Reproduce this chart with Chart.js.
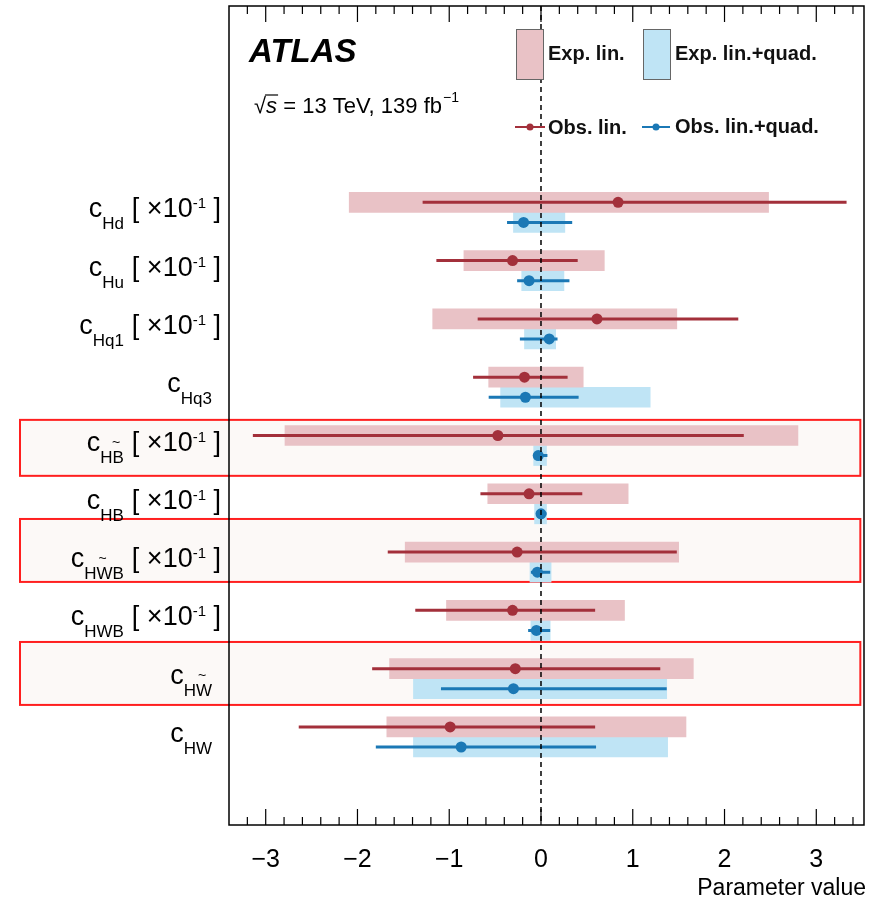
<!DOCTYPE html>
<html>
<head>
<meta charset="utf-8">
<script src="https://cdn.jsdelivr.net/npm/chart.js@4.4.1/dist/chart.umd.min.js"></script>
<style>
  body { margin: 0; background: #fff; }
  #wrap { width: 877px; height: 901px; }
</style>
</head>
<body>
<div id="wrap"><canvas id="myChart" width="877" height="901"></canvas></div>
<script>
// rows, top to bottom: subscript of c, which subscript letter gets a tilde, and the [x10^-1] flag
var params  = ['Hd', 'Hu', 'Hq1', 'Hq3', 'HB', 'HB', 'HWB', 'HWB', 'HW', 'HW'];
var tildeAt = [-1, -1, -1, -1, 1, -1, 1, -1, 1, -1];
var scaled  = [true, true, true, false, true, true, true, true, false, false];
var highlightRows = [4, 6, 8];

// expected intervals
var expLinLo  = [-2.09, -0.84, -1.18, -0.57, -2.79, -0.58, -1.48, -1.03, -1.65, -1.68];
var expLinHi  = [ 2.48,  0.69,  1.48,  0.46,  2.80,  0.95,  1.50,  0.91,  1.66,  1.58];
var expQuadLo = [-0.30, -0.21, -0.18, -0.44, -0.08, -0.07, -0.12, -0.11, -1.39, -1.39];
var expQuadHi = [ 0.26,  0.25,  0.16,  1.19,  0.06,  0.06,  0.11,  0.10,  1.37,  1.38];

// observed best fit and intervals
var obsLin    = [ 0.84, -0.31,  0.61, -0.18, -0.47, -0.13, -0.26, -0.31, -0.28, -0.99];
var obsLinLo  = [-1.29, -1.14, -0.69, -0.74, -3.14, -0.66, -1.67, -1.37, -1.84, -2.64];
var obsLinHi  = [ 3.33,  0.40,  2.15,  0.29,  2.21,  0.45,  1.48,  0.59,  1.30,  0.59];
var obsQuad   = [-0.19, -0.13,  0.09, -0.17, -0.03,  0.00, -0.04, -0.05, -0.30, -0.87];
var obsQuadLo = [-0.37, -0.26, -0.23, -0.57, -0.07, -0.05, -0.11, -0.14, -1.09, -1.80];
var obsQuadHi = [ 0.34,  0.31,  0.18,  0.41,  0.07,  0.06,  0.10,  0.10,  1.37,  0.60];

var xTicks = [-3, -2, -1, 0, 1, 2, 3];

var FONT = "'Liberation Sans', Arial, Helvetica, sans-serif";
var RED_BAND = '#e9c2c6', BLUE_BAND = '#bfe4f5';
var RED_LINE = '#a3303b', BLUE_LINE = '#1b78b5';
var OFF = 0.172;

function bandData(lo, hi, off) {
  return params.map(function (p, i) { return { x: [lo[i], hi[i]], y: i + off }; });
}
function barsData(lo, hi, off) {
  var out = [];
  params.forEach(function (p, i) {
    out.push({ x: lo[i], y: i + off }, { x: hi[i], y: i + off }, { x: null, y: null });
  });
  return out;
}
function pointData(v, off) {
  return params.map(function (p, i) { return { x: v[i], y: i + off }; });
}

function drawLabel(ctx, i, yc) {
  var big = '27px ' + FONT, sub = '17px ' + FONT, sup = '15px ' + FONT;
  ctx.font = big; var wc = ctx.measureText('c').width;
  ctx.font = sub; var ws = ctx.measureText(params[i]).width;
  var wb1 = 0, wsup = 0, wb2 = 0;
  if (scaled[i]) {
    ctx.font = big; wb1 = ctx.measureText('[ \u00d710').width;
    ctx.font = sup; wsup = ctx.measureText('-1').width;
    ctx.font = big; wb2 = ctx.measureText(' ]').width;
  }
  var gap = scaled[i] ? 8 : 0;
  var right = scaled[i] ? 221 : 212;
  var x = right - (wc + ws + gap + wb1 + wsup + wb2);
  ctx.fillStyle = '#000';
  ctx.textAlign = 'left';
  ctx.textBaseline = 'alphabetic';
  ctx.font = big; ctx.fillText('c', x, yc + 5);
  x += wc;
  ctx.font = sub; ctx.fillText(params[i], x, yc + 17);
  if (tildeAt[i] >= 0) {
    var pre = ctx.measureText(params[i].slice(0, tildeAt[i])).width;
    var lw = ctx.measureText(params[i][tildeAt[i]]).width;
    ctx.font = '14px ' + FONT;
    ctx.textAlign = 'center';
    ctx.fillText('~', x + pre + lw / 2 - 2, yc + 1);
    ctx.textAlign = 'left';
  }
  x += ws + gap;
  if (scaled[i]) {
    ctx.font = big; ctx.fillText('[ \u00d710', x, yc + 5); x += wb1;
    ctx.font = sup; ctx.fillText('-1', x, yc - 4); x += wsup;
    ctx.font = big; ctx.fillText(' ]', x, yc + 5);
  }
}

var decor = {
  id: 'decor',
  beforeDatasetsDraw: function (chart) {
    var ctx = chart.ctx, ys = chart.scales.y, xs = chart.scales.x;
    var ext = [[-0.44, 0.52], [-0.74, 0.34], [-0.63, 0.45]];
    ctx.save();
    highlightRows.forEach(function (r, k) {
      var t = ys.getPixelForValue(r + ext[k][0]);
      var b = ys.getPixelForValue(r + ext[k][1]);
      var right = xs.getPixelForValue(3.48);
      ctx.fillStyle = '#fcf9f7';
      ctx.fillRect(20, t, right - 20, b - t);
      ctx.strokeStyle = '#ff1f1f';
      ctx.lineWidth = 2;
      ctx.strokeRect(20, t, right - 20, b - t);
    });
    ctx.restore();
  },
  afterDatasetsDraw: function (chart) {
    var ctx = chart.ctx, a = chart.chartArea, xs = chart.scales.x, ys = chart.scales.y;
    ctx.save();
    // dashed zero line
    var x0 = xs.getPixelForValue(0);
    ctx.strokeStyle = '#000';
    ctx.lineWidth = 1.5;
    ctx.setLineDash([5, 4]);
    ctx.beginPath(); ctx.moveTo(x0, a.top); ctx.lineTo(x0, a.bottom); ctx.stroke();
    ctx.setLineDash([]);
    // frame
    ctx.lineWidth = 1.5;
    ctx.strokeRect(a.left, a.top, a.right - a.left, a.bottom - a.top);
    // inward ticks, top and bottom
    ctx.lineWidth = 1.2;
    for (var k = -17; k <= 17; k++) {
      var v = k / 5;
      var px = xs.getPixelForValue(v);
      if (px < a.left + 1 || px > a.right - 1) continue;
      var len = (k % 5 === 0) ? 16 : 8;
      ctx.beginPath();
      ctx.moveTo(px, a.bottom); ctx.lineTo(px, a.bottom - len);
      ctx.moveTo(px, a.top); ctx.lineTo(px, a.top + len);
      ctx.stroke();
    }
    // row labels
    params.forEach(function (p, i) { drawLabel(ctx, i, ys.getPixelForValue(i)); });

    // axis title
    ctx.fillStyle = '#000';
    ctx.font = '23px ' + FONT;
    ctx.textAlign = 'right';
    ctx.textBaseline = 'middle';
    ctx.fillText('Parameter value', a.right + 2, 889);

    // ATLAS + energy text
    ctx.textAlign = 'left';
    ctx.textBaseline = 'alphabetic';
    ctx.font = 'italic bold 33px ' + FONT;
    ctx.fillText('ATLAS', 249, 62);
    ctx.font = '22px ' + FONT;
    ctx.fillText('\u221a', 254, 113);
    var wr = ctx.measureText('\u221a').width;
    ctx.font = 'italic 22px ' + FONT;
    ctx.fillText('s', 254 + wr, 113);
    var wsq = ctx.measureText('s').width;
    ctx.lineWidth = 1.2;
    ctx.beginPath(); ctx.moveTo(254 + wr - 1, 95); ctx.lineTo(254 + wr + wsq + 1, 95); ctx.stroke();
    ctx.font = '22px ' + FONT;
    var tx = 254 + wr + wsq;
    ctx.fillText(' = 13 TeV, 139 fb', tx, 113);
    tx += ctx.measureText(' = 13 TeV, 139 fb').width;
    ctx.font = '14px ' + FONT;
    ctx.fillText('\u22121', tx + 1, 102);

    // legend
    ctx.lineWidth = 1;
    ctx.strokeStyle = '#666';
    ctx.fillStyle = RED_BAND; ctx.fillRect(516, 29, 27, 50); ctx.strokeRect(516.5, 29.5, 27, 50);
    ctx.fillStyle = BLUE_BAND; ctx.fillRect(643, 29, 27, 50); ctx.strokeRect(643.5, 29.5, 27, 50);
    ctx.fillStyle = '#111';
    ctx.font = 'bold 20px ' + FONT;
    ctx.textBaseline = 'middle';
    ctx.fillText('Exp. lin.', 548, 54);
    ctx.fillText('Exp. lin.+quad.', 675, 54);
    ctx.fillText('Obs. lin.', 548, 128);
    ctx.fillText('Obs. lin.+quad.', 675, 127);
    [[515, 545, RED_LINE], [642, 670, BLUE_LINE]].forEach(function (m) {
      ctx.strokeStyle = m[2]; ctx.fillStyle = m[2]; ctx.lineWidth = 2;
      ctx.beginPath(); ctx.moveTo(m[0], 127); ctx.lineTo(m[1], 127); ctx.stroke();
      ctx.beginPath(); ctx.arc((m[0] + m[1]) / 2, 127, 3.5, 0, Math.PI * 2); ctx.fill();
    });
    ctx.restore();
  }
};

var canvas = document.getElementById('myChart');
var chart = new Chart(canvas, {
  type: 'bar',
  data: {
    datasets: [
      { type: 'line', data: pointData(obsLin, -OFF), showLine: false, pointRadius: 5.5,
        pointBackgroundColor: RED_LINE, pointBorderWidth: 0, order: 1 },
      { type: 'line', data: pointData(obsQuad, OFF), showLine: false, pointRadius: 5.5,
        pointBackgroundColor: BLUE_LINE, pointBorderWidth: 0, order: 1 },
      { type: 'line', data: barsData(obsLinLo, obsLinHi, -OFF), borderColor: RED_LINE,
        borderWidth: 3, pointRadius: 0, spanGaps: false, order: 2 },
      { type: 'line', data: barsData(obsQuadLo, obsQuadHi, OFF), borderColor: BLUE_LINE,
        borderWidth: 3, pointRadius: 0, spanGaps: false, order: 2 },
      { label: 'Exp. lin.', data: bandData(expLinLo, expLinHi, -OFF), indexAxis: 'y',
        backgroundColor: RED_BAND, barThickness: 20, grouped: false, borderWidth: 0, order: 3 },
      { label: 'Exp. lin.+quad.', data: bandData(expQuadLo, expQuadHi, OFF), indexAxis: 'y',
        backgroundColor: BLUE_BAND, barThickness: 20, grouped: false, borderWidth: 0, order: 3 }
    ]
  },
  options: {
    responsive: false,
    animation: false,
    events: [],
    layout: { padding: { left: 229, right: 13, top: 6, bottom: 5 } },
    plugins: { legend: { display: false }, tooltip: { enabled: false } },
    scales: {
      x: {
        type: 'linear', position: 'bottom', min: -3.4, max: 3.52, offset: false,
        grid: { display: false, drawTicks: false, offset: false },
        border: { display: false },
        afterBuildTicks: function (s) { s.ticks = xTicks.map(function (v) { return { value: v }; }); },
        ticks: {
          padding: 23, color: '#000',
          font: { family: FONT, size: 25, lineHeight: 1 },
          callback: function (v) { return v < 0 ? '\u2212' + Math.abs(v) : '' + v; }
        },
        title: { display: false }
      },
      y: { type: 'linear', reverse: true, min: -3.54, max: 10.51, offset: false,
           grid: { offset: false }, display: false }
    }
  },
  plugins: [decor]
});
</script>
</body>
</html>
